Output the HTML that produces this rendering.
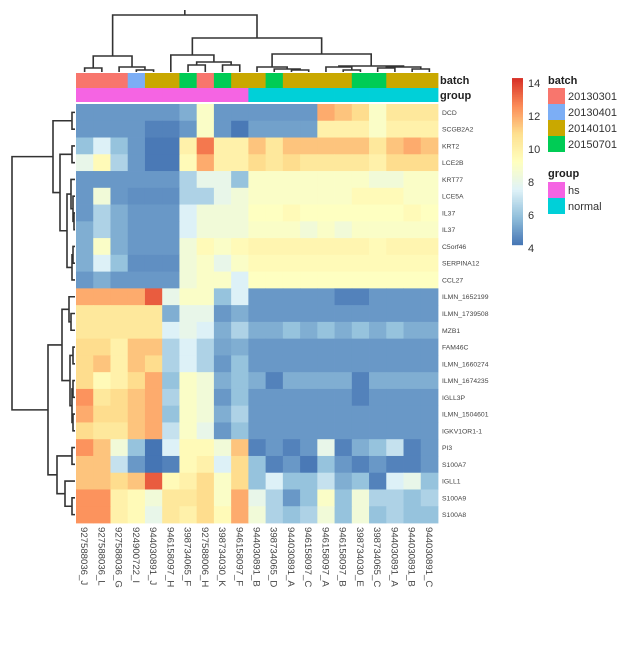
<!DOCTYPE html>
<html><head><meta charset="utf-8"><style>
body{margin:0;background:#fff;width:624px;height:647px;overflow:hidden;font-family:"Liberation Sans",sans-serif;}
svg{display:block}
</style></head><body>
<svg id="chart" width="624" height="647" xmlns="http://www.w3.org/2000/svg"></svg>
<script>
const rowLabels=["DCD","SCGB2A2","KRT2","LCE2B","KRT77","LCE5A","IL37","IL37","C5orf46","SERPINA12","CCL27","ILMN_1652199","ILMN_1739508","MZB1","FAM46C","ILMN_1660274","ILMN_1674235","IGLL3P","ILMN_1504601","IGKV1OR1-1","PI3","S100A7","IGLL1","S100A9","S100A8"];
const colLabels=["927588036_J","927588036_L","927588036_G","924900722_I","944030891_J","946158097_H","398734065_F","927588006_H","398734030_K","946158097_F","944030891_B","398734065_D","944030891_A","946158097_C","946158097_A","946158097_B","398734030_E","398734065_C","944030891_A","944030891_B","944030891_C"];
const batch=[0,0,0,1,2,2,3,0,3,2,2,3,2,2,2,2,3,3,2,2,2];
const group=[0,0,0,0,0,0,0,0,0,0,1,1,1,1,1,1,1,1,1,1,1];
const batchNames=["20130301","20130401","20140101","20150701"];
const batchColors=["#F8766D","#7CAEF5","#C9A800","#00CC55"];
const groupNames=["hs","normal"];
const groupColors=["#F564E3","#00D0D8"];
const values=[
[5,5,5,5,5,5,5.5,9,5,5,5,5,5,5,12,11.5,11,9,10.5,10.5,10.5],
[5,5,5,5,4.5,4.5,5,9,5,4.3,5.2,5.2,5.2,5.2,10,10,10,9,10,10,10],
[6,7.5,6,5,4.3,4.3,10,13,10,10,11.5,10.5,11.5,11.5,11.5,11.5,11.5,10.5,11.5,12,11.5],
[8,9.5,6.5,5,4.3,4.3,9.5,12,10,10,11,10.5,11,10.5,10.5,10.5,10.5,10,11,11,11],
[5,5,5,5,5,5,6.5,8,8,6,9,9,9,9,9,9,9,8.5,8.5,9,9],
[5,8.5,5,4.8,4.8,4.8,6.5,6.5,8,8.5,9,9,9,9,9,9,9.5,9.5,9.5,9,9],
[5,6.5,5.5,5,5,5,7.5,8.5,8.5,8.5,9.2,9.2,9.5,9.2,9.2,9.2,9.2,9.2,9.2,9.5,9.2],
[5.5,6.5,5.5,5,5,5,7.5,8.5,8.5,8.5,9,9,9,8.5,9,8.5,9,9,9,9,9],
[5.5,9,5.5,5,5,5,8.5,9.5,9,9.5,9.8,9.8,9.8,9.8,9.8,9.8,9.8,9.5,9.8,9.8,9.8],
[5.5,7.5,6,4.8,4.8,4.8,8.5,9,8,9,9.5,9.5,9.5,9.5,9.5,9.5,9.5,9.5,9.5,9.5,9.5],
[5,5.5,5,5,5,5,8.5,9,9,7.5,9.2,9.2,9.2,9.2,9.2,9.2,9.2,9.2,9.2,9.2,9.2],
[12,12,12,12,13.5,8,9,9,6,7.5,5,5,5,5,5,4.5,4.5,5,5,5,5],
[10.5,10.5,10.5,10.5,10.5,5.5,8,8,5,5.5,5,5,5,5,5,5,5,5,5,5,5],
[10.5,10.5,10.5,10.5,10.5,7.5,8,7.5,5.5,6.5,5.5,5.5,6,5.5,6,5.5,6,5.5,6,5.5,5.5],
[11,11,10,11.5,11.5,6.5,7.5,6.5,5.3,5.5,5,5,5,5,5,5,5,5,5,5,5],
[11,11.5,10,11.5,11,6.5,7.5,6.5,5,6,5,5,5,5,5,5,5,5,5,5,5],
[11,9.5,10,11,12,6,9,8.5,5.5,6,5.5,4.5,5.5,5.5,5.5,5.5,4.5,5.5,5.5,5.5,5.5],
[12.5,10.5,11,11.5,12,6.5,9,8.5,5,6,5,5,5,5,5,5,4.5,5,5,5,5],
[12,11,11,11.5,12,6,9,8.5,5.5,6.5,5,5,5,5,5,5,5,5,5,5,5],
[11,10.5,10.5,11.5,12,7,9,8,5,6,5,5,5,5,5,5,5,5,5,5,5],
[12.5,11.5,8.5,6,4.2,7.5,9.5,9.5,8.5,11.5,4.5,5,4.5,5,8,4.5,5.5,6,7,4.5,5],
[11.5,11.5,7,5,4.2,4.5,9.5,10,7.5,11,6,4.5,5,4.3,6,5,4.5,5,4.5,4.5,5],
[11.5,11.5,11,11.5,13.5,9.5,10,11,9,11,6,7.5,6,6,7,5.5,6,4.5,7.5,8,6],
[12.5,12.5,10,9.5,8.5,10.5,10.5,11,9,12,8,6.5,5,6,9,6,8.5,6.5,6.5,6,6.5],
[12.5,12.5,10,9.5,8,10.5,10,11,9.5,12,8.5,6.5,6,6.5,8.5,6,8.5,6,6.5,6,6]
];
const legendTicks=[4,6,8,10,12,14];

const NS="http://www.w3.org/2000/svg";
const svg=document.getElementById('chart');
function mk(tag,attrs,parent){const e=document.createElementNS(NS,tag);for(const k in attrs)e.setAttribute(k,attrs[k]);(parent||svg).appendChild(e);return e;}
const X0=76,X1=438,Y0=104,Y1=523;
const cw=(X1-X0)/colLabels.length, rh=(Y1-Y0)/rowLabels.length;
const xPos=i=>X0+i*cw, yPos=j=>Y0+j*rh;
const stops=["#4575B4","#91BFDB","#E0F3F8","#FFFFBF","#FEE090","#FC8D59","#D73027"];
const VMIN=4.2,VMAX=14.3;
function hex(c){return [1,3,5].map(i=>parseInt(c.substr(i,2),16));}
function color(v){let t=(v-VMIN)/(VMAX-VMIN);t=Math.max(0,Math.min(1,t))*(stops.length-1);const i=Math.min(stops.length-2,Math.floor(t)),f=t-i;const a=hex(stops[i]),b=hex(stops[i+1]);return 'rgb('+a.map((x,k)=>Math.round(x+(b[k]-x)*f)).join(',')+')';}

const cells=mk('g',{});


values.forEach((row,j)=>row.forEach((v,i)=>{
  const r=mk('rect',{x:xPos(i),y:yPos(j),width:cw+0.4,height:rh+0.4,fill:color(v)},cells);
  
  
}));
batch.forEach((b,i)=>{const r=mk('rect',{x:xPos(i),y:73,width:cw+0.4,height:15,fill:batchColors[b]});
  
  });
group.forEach((g,i)=>{const r=mk('rect',{x:xPos(i),y:88,width:cw+0.4,height:14,fill:groupColors[g]});
  
  });
let t=mk('text',{x:440,y:84,'font-size':11,'font-weight':'bold',fill:'#222'});t.textContent='batch';

t=mk('text',{x:440,y:99,'font-size':11,'font-weight':'bold',fill:'#222'});t.textContent='group';


rowLabels.forEach((l,j)=>{const e=mk('text',{x:442,y:yPos(j)+rh/2+2.5,'font-size':6.8,fill:'#444'});e.textContent=l;
  });
colLabels.forEach((l,i)=>{const cx=xPos(i)+cw/2-3.5;const e=mk('text',{x:0,y:0,'font-size':9.6,fill:'#444',transform:'translate('+cx+',527) rotate(90)'});e.textContent=l;
  });

const colTree=[[[0,1,68],[2,[3,4,70],67],56],[[5,[[6,7,65],[8,9,65],62],55],[[10,[11,[12,13,70],69],67],[[14,[15,16,70],67],[[17,18,68],[19,20,69],67],66],54],38],15];
const rowTree=[[[0,1,72],[[2,3,72],[[4,[5,[6,7,74],73],71],[[8,9,73],10,72],67],60],53],[[[11,[12,13,71],69],[[14,15,73],[[16,17,73],[18,19,73],72],70],62],[[20,21,72],[22,[23,24,72],65],57],48],12];
const dg=mk('g',{stroke:'#333','stroke-width':1.6,fill:'none'});

function drawCol(n){ if(typeof n==='number') return {x:xPos(n)+cw/2,y:72};
  const a=drawCol(n[0]),b=drawCol(n[1]),h=n[2];
  mk('path',{d:`M${a.x},${a.y}V${h}H${b.x}V${b.y}`},dg);
  return {x:(a.x+b.x)/2,y:h};}
const rc=drawCol(colTree); mk('path',{d:`M${rc.x},${rc.y}V10`},dg);
function drawRow(n){ if(typeof n==='number') return {y:yPos(n)+rh/2,x:75};
  const a=drawRow(n[0]),b=drawRow(n[1]),h=n[2];
  mk('path',{d:`M${a.x},${a.y}H${h}V${b.y}H${b.x}`},dg);
  return {y:(a.y+b.y)/2,x:h};}
drawRow(rowTree);

const CB=mk('g',{});
const cy=v=>248-(v-4)*16.5;
for(let k=0;k<100;k++){const v0=VMIN+(VMAX-VMIN)*k/100,v1=VMIN+(VMAX-VMIN)*(k+1)/100;
  mk('rect',{x:512,y:cy(v1),width:11,height:cy(v0)-cy(v1)+0.5,fill:color((v0+v1)/2)},CB);}
legendTicks.forEach(v=>{const e=mk('text',{x:528,y:cy(v)+4,'font-size':11,fill:'#333'},CB);e.textContent=v;
  });

t=mk('text',{x:548,y:84,'font-size':11,'font-weight':'bold',fill:'#222'});t.textContent='batch';

batchNames.forEach((n,k)=>{const r=mk('rect',{x:548,y:88+k*16,width:17,height:16,fill:batchColors[k]});
  
  const e=mk('text',{x:568,y:100+k*16,'font-size':11,fill:'#333'});e.textContent=n;
  });
t=mk('text',{x:548,y:177,'font-size':11,'font-weight':'bold',fill:'#222'});t.textContent='group';

groupNames.forEach((n,k)=>{const r=mk('rect',{x:548,y:182+k*16,width:17,height:16,fill:groupColors[k]});
  
  const e=mk('text',{x:568,y:194+k*16,'font-size':11,fill:'#333'});e.textContent=n;
  });
</script>
</body></html>
